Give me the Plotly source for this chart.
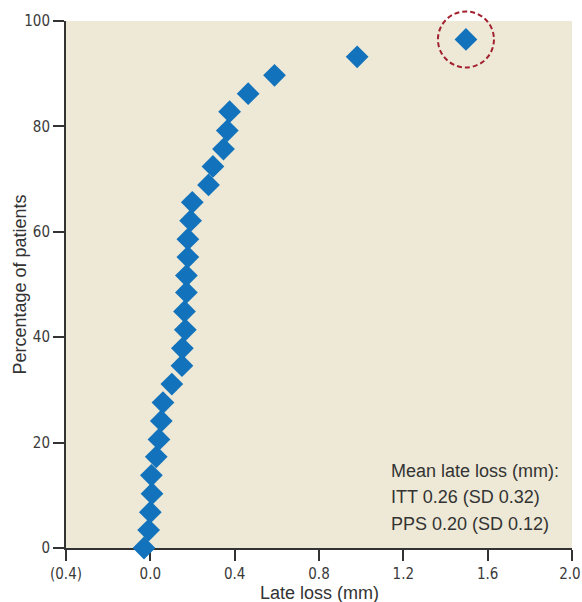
import plotly.graph_objects as go

late_loss = [-0.030, -0.008, 0.000, 0.008, 0.005, 0.028, 0.041, 0.052, 0.060, 0.102,
             0.150, 0.152, 0.166, 0.162, 0.171, 0.171, 0.178, 0.178, 0.191, 0.199,
             0.276, 0.297, 0.347, 0.365, 0.376, 0.464, 0.589, 0.981, 1.497]
pct_patients = [0.0, 3.4, 6.8, 10.3, 13.8, 17.3, 20.6, 24.1, 27.6, 31.1,
                34.6, 37.9, 41.4, 44.9, 48.5, 51.7, 55.2, 58.6, 62.1, 65.6,
                68.9, 72.4, 75.7, 79.2, 82.8, 86.2, 89.7, 93.2, 96.5]
x_range = [-0.4, 2.0]
y_range = [0, 100]
x_tickvals = [-0.4, 0.0, 0.4, 0.8, 1.2, 1.6, 2.0]
# a trailing no-break space nudges the last label slightly left
x_ticktext = ["(0.4)", "0.0", "0.4", "0.8", "1.2", "1.6", "2.0\u00a0"]
y_tickvals = [0, 20, 40, 60, 80, 100]
note_lines = ["Mean late loss (mm):", "ITT 0.26 (SD 0.32)", "PPS 0.20 (SD 0.12)"]
note_y = [14.6, 9.6, 4.6]
note_x = 1.134
outlier_x, outlier_y = late_loss[-1], pct_patients[-1]

tick_font = dict(family="DejaVu Sans Condensed, Liberation Sans Narrow, sans-serif", size=15, color="#3a3a3a")
text_font = dict(family="Liberation Sans, Arial, sans-serif", size=18, color="#333333")

fig = go.Figure()
fig.add_trace(go.Scatter(
    x=late_loss, y=pct_patients, mode="markers",
    marker=dict(symbol="diamond", size=17.5, color="#1272BB", line=dict(width=0)),
    cliponaxis=False, showlegend=False, hoverinfo="skip"))

# dashed highlight circle around the outlier (domain refs so it is not clipped)
fig.add_shape(type="circle", xref="x domain", yref="y domain",
              xsizemode="pixel", ysizemode="pixel",
              xanchor=(outlier_x - x_range[0]) / (x_range[1] - x_range[0]),
              yanchor=(outlier_y - y_range[0]) / (y_range[1] - y_range[0]),
              x0=-28, x1=28, y0=-28, y1=28,
              line=dict(color="#A3202E", width=2, dash="5px,3px"))

for t, yy in zip(note_lines, note_y):
    fig.add_annotation(x=note_x, y=yy, xref="x", yref="y", text=t, showarrow=False,
                       xanchor="left", yanchor="middle",
                       font=dict(family="Liberation Sans, Arial, sans-serif", size=18, color="#333333"))

fig.add_annotation(x=0.5, y=0, xref="paper", yref="paper", yshift=-45, text="Late loss (mm)",
                   showarrow=False, xanchor="center", yanchor="middle", font=text_font)
fig.add_annotation(x=0, y=0.5, xref="paper", yref="paper", xshift=-47, text="Percentage of patients",
                   showarrow=False, xanchor="center", yanchor="middle", textangle=-90, font=text_font)

axis_common = dict(showgrid=False, zeroline=False, showline=True, linecolor="#333333",
                   linewidth=2, ticks="outside", ticklen=11, tickwidth=1.5,
                   tickcolor="#333333", tickfont=tick_font, layer="below traces",
                   automargin=False, ticklabeloverflow="allow")

fig.update_xaxes(range=x_range, tickvals=x_tickvals, ticktext=x_ticktext, **axis_common)
fig.update_yaxes(range=y_range, tickvals=y_tickvals, **axis_common)

fig.update_layout(width=582, height=602, margin=dict(l=66, r=10, t=21, b=54, pad=0),
                  plot_bgcolor="#EDE9D6", paper_bgcolor="white")

# remove the default page margin and scrollbars so the figure fills the window exactly
fig.write_html("out.html", config={"displayModeBar": False},
               post_script="document.body.style.margin='0';document.body.style.overflow='hidden';"
                           "document.documentElement.style.overflow='hidden';")
